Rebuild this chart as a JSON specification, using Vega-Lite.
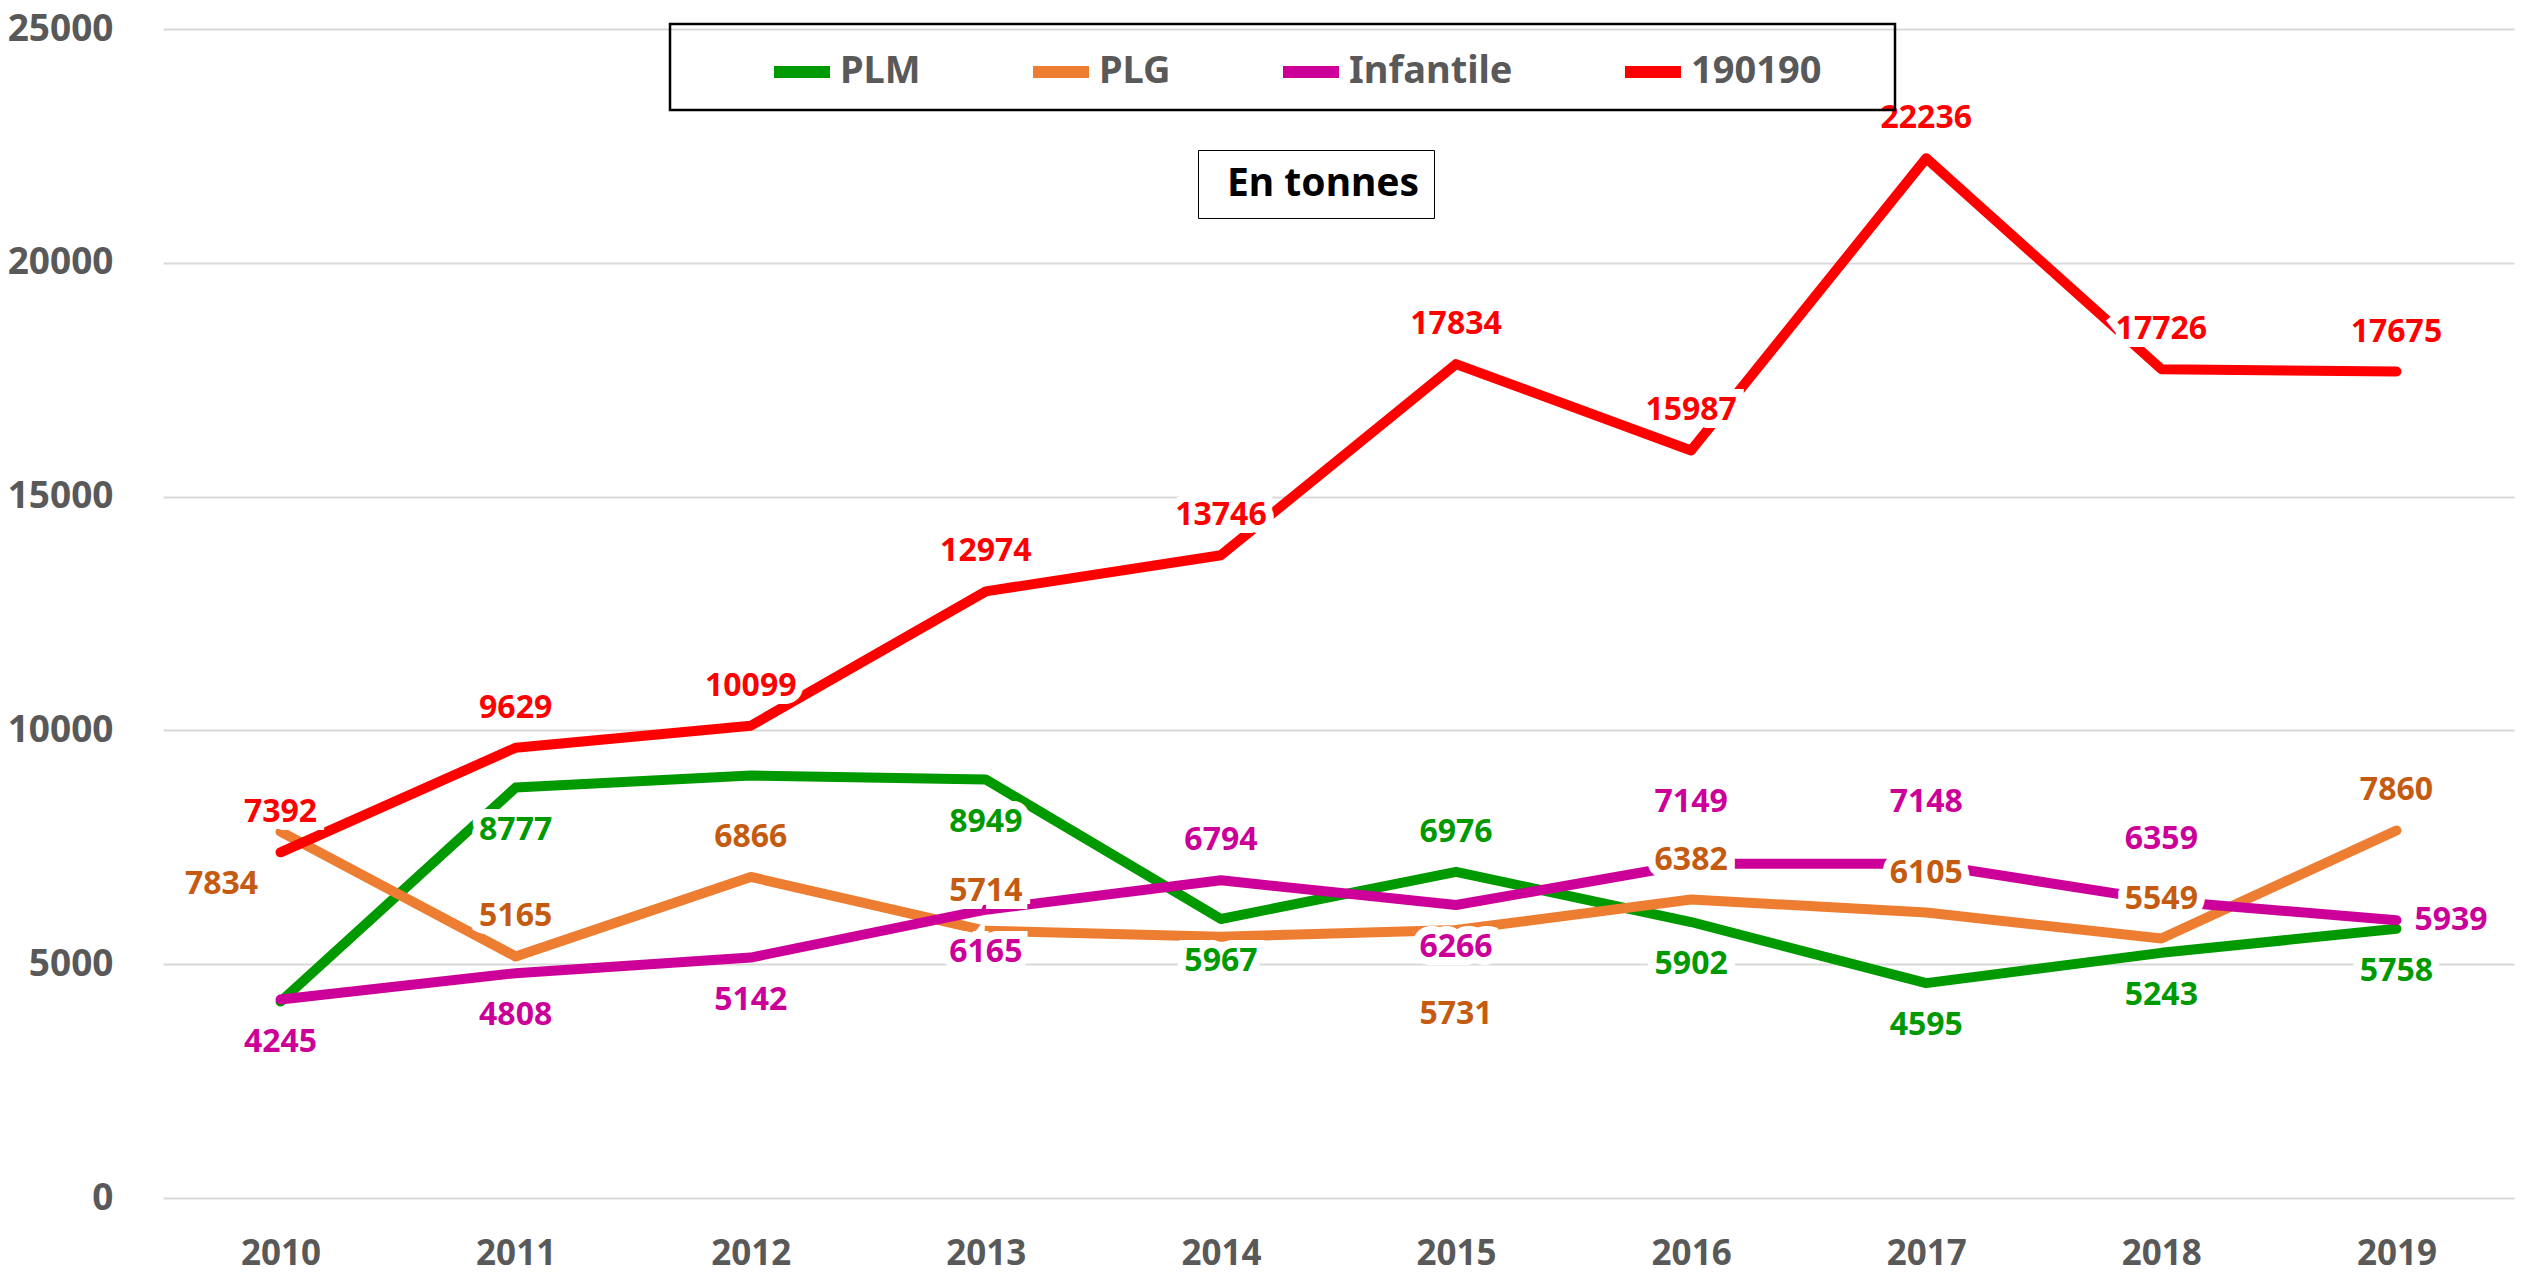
{
  "$schema": "https://vega.github.io/schema/vega-lite/v6.json",
  "autosize": {"type": "none"},
  "padding": {"left": 163, "top": 29, "right": 7, "bottom": 85},
  "width": 2351,
  "height": 1169,
  "config": {
    "view": {"stroke": null},
    "font": "Noto Sans"
  },
  "data": {
    "values": [
      {"year": "2010", "series": "PLM", "value": 4200},
      {"year": "2011", "series": "PLM", "value": 8777},
      {"year": "2012", "series": "PLM", "value": 9033},
      {"year": "2013", "series": "PLM", "value": 8949},
      {"year": "2014", "series": "PLM", "value": 5967},
      {"year": "2015", "series": "PLM", "value": 6976},
      {"year": "2016", "series": "PLM", "value": 5902},
      {"year": "2017", "series": "PLM", "value": 4595},
      {"year": "2018", "series": "PLM", "value": 5243},
      {"year": "2019", "series": "PLM", "value": 5758},
      {"year": "2010", "series": "PLG", "value": 7834},
      {"year": "2011", "series": "PLG", "value": 5165},
      {"year": "2012", "series": "PLG", "value": 6866},
      {"year": "2013", "series": "PLG", "value": 5714},
      {"year": "2014", "series": "PLG", "value": 5589},
      {"year": "2015", "series": "PLG", "value": 5731},
      {"year": "2016", "series": "PLG", "value": 6382},
      {"year": "2017", "series": "PLG", "value": 6105},
      {"year": "2018", "series": "PLG", "value": 5549},
      {"year": "2019", "series": "PLG", "value": 7860},
      {"year": "2010", "series": "Infantile", "value": 4245},
      {"year": "2011", "series": "Infantile", "value": 4808},
      {"year": "2012", "series": "Infantile", "value": 5142},
      {"year": "2013", "series": "Infantile", "value": 6165},
      {"year": "2014", "series": "Infantile", "value": 6794},
      {"year": "2015", "series": "Infantile", "value": 6266},
      {"year": "2016", "series": "Infantile", "value": 7149},
      {"year": "2017", "series": "Infantile", "value": 7148},
      {"year": "2018", "series": "Infantile", "value": 6359},
      {"year": "2019", "series": "Infantile", "value": 5939},
      {"year": "2010", "series": "190190", "value": 7392},
      {"year": "2011", "series": "190190", "value": 9629},
      {"year": "2012", "series": "190190", "value": 10099},
      {"year": "2013", "series": "190190", "value": 12974},
      {"year": "2014", "series": "190190", "value": 13746},
      {"year": "2015", "series": "190190", "value": 17834},
      {"year": "2016", "series": "190190", "value": 15987},
      {"year": "2017", "series": "190190", "value": 22236},
      {"year": "2018", "series": "190190", "value": 17726},
      {"year": "2019", "series": "190190", "value": 17675}
    ]
  },
  "encoding": {
    "x": {
      "field": "year", "type": "ordinal",
      "axis": {
        "title": null, "labelAngle": 0, "domain": false, "ticks": false, "grid": false,
        "labelPadding": 38, "labelFontSize": 35, "labelFontWeight": "bold", "labelColor": "#595959", "labelFont": "Noto Sans"
      }
    },
    "y": {
      "field": "value", "type": "quantitative",
      "scale": {"domain": [0, 25000], "nice": false},
      "axis": {
        "title": null, "values": [0, 5000, 10000, 15000, 20000, 25000], "format": "d",
        "domain": false, "ticks": false, "gridColor": "#D9D9D9", "gridWidth": 2,
        "labelPadding": 50, "labelFontSize": 37, "labelFontWeight": "bold", "labelColor": "#595959", "labelFont": "Noto Sans"
      }
    }
  },
  "layer": [
    {
      "mark": {"type": "point", "opacity": 0},
      "transform": [{"filter": "datum.series === 'PLM' && datum.year === '2010'"}],
      "encoding": {
        "shape": {
          "datum": "En tonnes",
          "legend": {
            "orient": "none", "legendX": 1035, "legendY": 121, "title": null,
            "symbolSize": 0, "symbolOpacity": 0, "symbolStrokeWidth": 0, "symbolOffset": -24, "labelOffset": 0, "labelLimit": 500,
            "labelFontSize": 39, "labelFontWeight": "bold", "labelColor": "#000000", "labelFont": "Noto Sans",
            "strokeColor": "#000000", "padding": 14,
            "encode": {"legend": {"update": {"strokeWidth": {"value": 2.5}}}}
          }
        }
      }
    },
    {
      "transform": [{"filter": "datum.series === 'PLM'"}],
      "mark": {"type": "line", "strokeWidth": 10, "strokeCap": "round", "strokeJoin": "round"},
      "encoding": {
        "color": {
          "field": "series", "type": "nominal",
          "scale": {"domain": ["PLM", "PLG", "Infantile", "190190"], "range": ["#009900", "#ED7D31", "#CC0099", "#FF0000"]},
          "legend": {
            "orient": "none", "legendX": 507, "legendY": -5, "direction": "horizontal", "columns": 4,
            "title": " ", "titleOrient": "right", "titlePadding": 60, "titleFontSize": 2,
            "symbolType": "stroke", "symbolStrokeWidth": 12, "symbolSize": 3136,
            "symbolOffset": 84, "labelOffset": 4, "columnPadding": 22, "labelLimit": 500,
            "labelFontSize": 38, "labelFontWeight": "bold", "labelColor": "#595959", "labelFont": "Noto Sans",
            "strokeColor": "#000000", "padding": 14,
            "encode": {"legend": {"update": {"strokeWidth": {"value": 2.5}}}}
          }
        }
      }
    },
    {
      "transform": [{"filter": "datum.series === 'PLG'"}],
      "mark": {"type": "line", "strokeWidth": 10, "strokeCap": "round", "strokeJoin": "round"},
      "encoding": {"color": {"field": "series", "type": "nominal"}}
    },
    {
      "transform": [{"filter": "datum.series === 'Infantile'"}],
      "mark": {"type": "line", "strokeWidth": 10, "strokeCap": "round", "strokeJoin": "round"},
      "encoding": {"color": {"field": "series", "type": "nominal"}}
    },
    {
      "transform": [{"filter": "datum.series === '190190'"}],
      "mark": {"type": "line", "strokeWidth": 10, "strokeCap": "round", "strokeJoin": "round"},
      "encoding": {"color": {"field": "series", "type": "nominal"}}
    },
    {
      "transform": [{"filter": "datum.series === '190190' || indexof(['PLM|2015','PLG|2011','PLG|2012','PLG|2013','PLG|2016','PLG|2017','PLG|2018','PLG|2019','Infantile|2014'], datum.series + '|' + datum.year) >= 0"}],
      "encoding": {"text": {"field": "value", "type": "quantitative", "format": "d"}},
      "layer": [
        {"mark": {"type": "text", "dy": -40, "fontSize": 32, "fontWeight": "bold", "font": "Noto Sans", "fill": "white", "stroke": "white", "strokeWidth": 16, "strokeJoin": "miter"}},
        {"mark": {"type": "text", "dy": -40, "fontSize": 32, "fontWeight": "bold", "font": "Noto Sans"},
         "encoding": {"color": {"condition": [{"test": "datum.series === 'PLM'", "value": "#009900"}, {"test": "datum.series === 'PLG'", "value": "#C55A11"}, {"test": "datum.series === 'Infantile'", "value": "#CC0099"}], "value": "#FF0000"}}}
      ]
    },
    {
      "transform": [{"filter": "indexof(['PLM|2011','PLM|2013','PLM|2014','PLM|2016','PLM|2017','PLM|2018','PLM|2019','Infantile|2010','Infantile|2011','Infantile|2012','Infantile|2013','Infantile|2015'], datum.series + '|' + datum.year) >= 0"}],
      "encoding": {"text": {"field": "value", "type": "quantitative", "format": "d"}},
      "layer": [
        {"mark": {"type": "text", "dy": 42, "fontSize": 32, "fontWeight": "bold", "font": "Noto Sans", "fill": "white", "stroke": "white", "strokeWidth": 16, "strokeJoin": "miter"}},
        {"mark": {"type": "text", "dy": 42, "fontSize": 32, "fontWeight": "bold", "font": "Noto Sans"},
         "encoding": {"color": {"condition": [{"test": "datum.series === 'PLM'", "value": "#009900"}, {"test": "datum.series === 'PLG'", "value": "#C55A11"}, {"test": "datum.series === 'Infantile'", "value": "#CC0099"}], "value": "#FF0000"}}}
      ]
    },
    {
      "transform": [{"filter": "indexof(['Infantile|2016','Infantile|2017','Infantile|2018'], datum.series + '|' + datum.year) >= 0"}],
      "encoding": {"text": {"field": "value", "type": "quantitative", "format": "d"}},
      "layer": [
        {"mark": {"type": "text", "dy": -62, "fontSize": 32, "fontWeight": "bold", "font": "Noto Sans", "fill": "white", "stroke": "white", "strokeWidth": 16, "strokeJoin": "miter"}},
        {"mark": {"type": "text", "dy": -62, "fontSize": 32, "fontWeight": "bold", "font": "Noto Sans", "color": "#CC0099"}}
      ]
    },
    {
      "transform": [{"filter": "datum.series === 'PLG' && datum.year === '2015'"}],
      "encoding": {"text": {"field": "value", "type": "quantitative", "format": "d"}},
      "layer": [
        {"mark": {"type": "text", "dy": 84, "fontSize": 32, "fontWeight": "bold", "font": "Noto Sans", "fill": "white", "stroke": "white", "strokeWidth": 16, "strokeJoin": "miter"}},
        {"mark": {"type": "text", "dy": 84, "fontSize": 32, "fontWeight": "bold", "font": "Noto Sans", "color": "#C55A11"}}
      ]
    },
    {
      "transform": [{"filter": "datum.series === 'PLG' && datum.year === '2010'"}],
      "encoding": {"text": {"field": "value", "type": "quantitative", "format": "d"}},
      "layer": [
        {"mark": {"type": "text", "dx": -59, "dy": 52, "fontSize": 32, "fontWeight": "bold", "font": "Noto Sans", "fill": "white", "stroke": "white", "strokeWidth": 16, "strokeJoin": "miter"}},
        {"mark": {"type": "text", "dx": -59, "dy": 52, "fontSize": 32, "fontWeight": "bold", "font": "Noto Sans", "color": "#C55A11"}}
      ]
    },
    {
      "transform": [{"filter": "datum.series === 'Infantile' && datum.year === '2019'"}],
      "encoding": {"text": {"field": "value", "type": "quantitative", "format": "d"}},
      "layer": [
        {"mark": {"type": "text", "align": "left", "dx": 18, "fontSize": 32, "fontWeight": "bold", "font": "Noto Sans", "fill": "white", "stroke": "white", "strokeWidth": 16, "strokeJoin": "miter"}},
        {"mark": {"type": "text", "align": "left", "dx": 18, "fontSize": 32, "fontWeight": "bold", "font": "Noto Sans", "color": "#CC0099"}}
      ]
    }
  ]
}
